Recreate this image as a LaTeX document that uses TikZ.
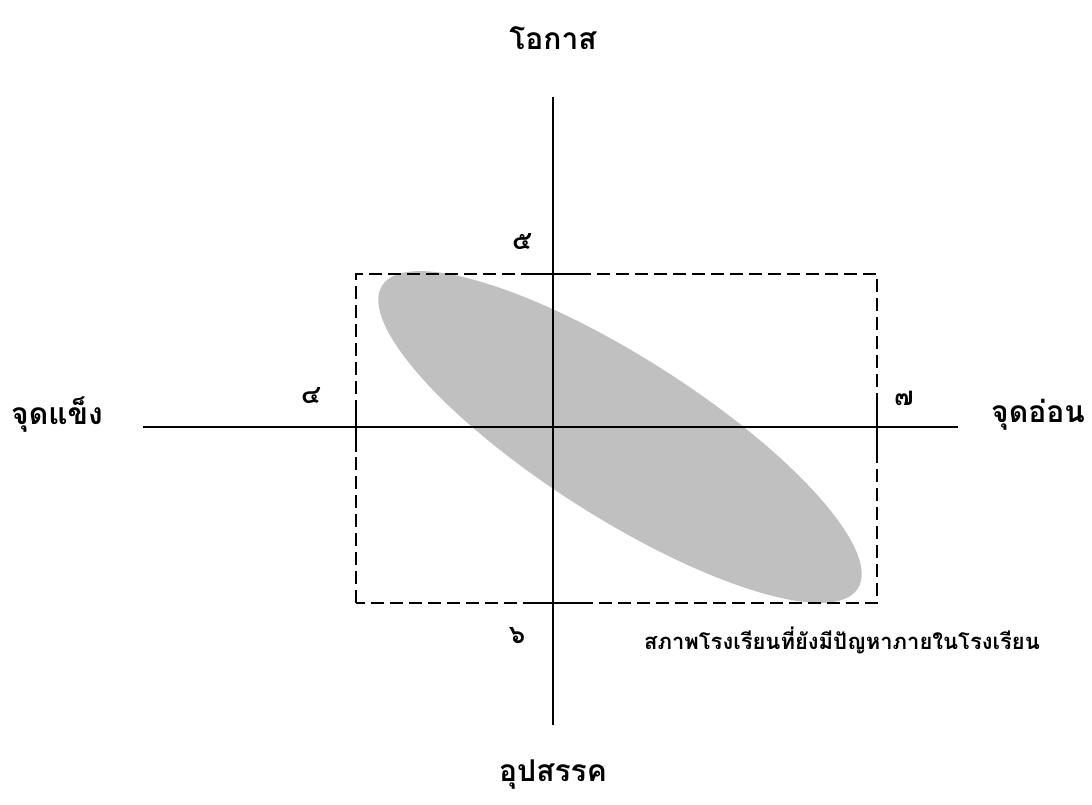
\documentclass[tikz,border=0pt]{standalone}
\usepackage{fontspec}
\newfontfamily\thaifont[Script=Thai]{Loma}
\begin{document}
\begin{tikzpicture}[x=1pt,y=-1pt,
  axis/.style={line width=1.6pt,black},
  dashbox/.style={line width=1.6pt,dash pattern=on 13pt off 6pt},
  tick/.style={line width=1.6pt},
  biglabel/.style={font=\thaifont\bfseries\fontsize{30}{34}\selectfont,inner sep=0pt},
  numlabel/.style={font=\thaifont\bfseries\fontsize{26}{30}\selectfont,inner sep=0pt},
  smalllabel/.style={font=\thaifont\bfseries\fontsize{22}{26}\selectfont,inner sep=0pt}]
\useasboundingbox (0,0) rectangle (1092,804);
% ellipse
\fill[fill={rgb,255:red,192;green,192;blue,192},rotate around={-32.5:(620,437)}] (620,437) ellipse [x radius=282pt, y radius=80pt];
% axes
\coordinate (vtop) at (553,97);
\coordinate (vbot) at (553,725);
\coordinate (hl) at (143,427);
\coordinate (hr) at (958,427);
\draw[axis] (vtop) -- (vbot);
\draw[axis] (hl) -- (hr);
% dashed box
\coordinate (bl) at (356,603);
\coordinate (tr) at (877,274);
\draw[dashbox] (bl) rectangle (tr);
% solid ticks
\coordinate (t1) at (525,274); \coordinate (t2) at (587,274);
\coordinate (b1) at (525,603); \coordinate (b2) at (585,603);
\coordinate (l1) at (356,403); \coordinate (l2) at (356,452);
\coordinate (r1) at (877,402); \coordinate (r2) at (877,455);
\draw[tick] (t1) -- (t2);
\draw[tick] (b1) -- (b2);
\draw[tick] (l1) -- (l2);
\draw[tick] (r1) -- (r2);
% labels
\node[biglabel] (opp) at (553,38) {โอกาส};
\node[biglabel] (thr) at (553,775) {อุปสรรค};
\node[biglabel] (str) at (57,415) {จุดแข็ง};
\node[biglabel] (wea) at (1038,415) {จุดอ่อน};
\node[numlabel] (n5) at (522,242) {๕};
\node[numlabel] (n4) at (311,396) {๔};
\node[numlabel] (n7) at (904,398) {๗};
\node[numlabel] (n6) at (517,636) {๖};
\node[smalllabel] (note) at (842,640) {สภาพโรงเรียนที่ยังมีปัญหาภายในโรงเรียน};
\end{tikzpicture}
\end{document}
